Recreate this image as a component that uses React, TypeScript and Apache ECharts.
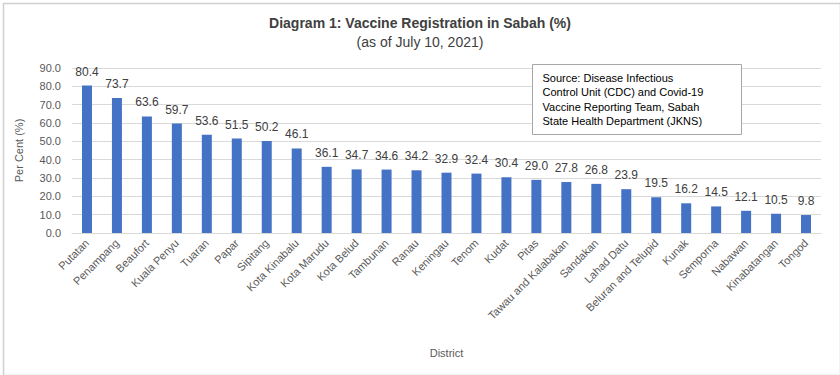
import React, { useEffect, useRef } from "react";
import * as echarts from "echarts";

const districts = [
  "Putatan", "Penampang", "Beaufort", "Kuala Penyu", "Tuaran", "Papar", "Sipitang",
  "Kota Kinabalu", "Kota Marudu", "Kota Belud", "Tambunan", "Ranau", "Keningau",
  "Tenom", "Kudat", "Pitas", "Tawau and Kalabakan", "Sandakan", "Lahad Datu",
  "Beluran and Telupid", "Kunak", "Semporna", "Nabawan", "Kinabatangan", "Tongod",
];
const registration = [
  80.4, 73.7, 63.6, 59.7, 53.6, 51.5, 50.2, 46.1, 36.1, 34.7, 34.6, 34.2, 32.9,
  32.4, 30.4, 29.0, 27.8, 26.8, 23.9, 19.5, 16.2, 14.5, 12.1, 10.5, 9.8,
];
const titleText = "Diagram 1: Vaccine Registration in Sabah (%)";
const subtitleText = "(as of July 10, 2021)";
const sourceLines = [
  "Source: Disease Infectious",
  "Control Unit (CDC) and Covid-19",
  "Vaccine Reporting Team, Sabah",
  "State Health Department (JKNS)",
];

export default function App() {
  const ref = useRef<HTMLDivElement>(null);
  useEffect(() => {
    document.body.style.margin = "0";
    const chart = echarts.init(ref.current!, undefined, { renderer: "svg" });
    const font = "'Liberation Sans', Arial, sans-serif";
    chart.setOption({
      animation: false,
      backgroundColor: "#ffffff",
      textStyle: { fontFamily: font },
      title: {
        text: titleText,
        subtext: subtitleText,
        left: "center",
        top: 11,
        itemGap: 5,
        textStyle: { fontFamily: font, fontSize: 14, fontWeight: "bold", color: "#404040" },
        subtextStyle: { fontFamily: font, fontSize: 14, color: "#404040" },
      },
      grid: { left: 72, right: 19, top: 68, bottom: 142, containLabel: false },
      xAxis: {
        type: "category",
        data: districts,
        name: "District",
        nameLocation: "middle",
        nameGap: 114,
        nameTextStyle: { fontFamily: font, fontSize: 11, color: "#595959" },
        axisLine: { lineStyle: { color: "#d9d9d9" } },
        axisTick: { show: false },
        axisLabel: { rotate: 45, interval: 0, fontSize: 11, color: "#595959", margin: 8 },
      },
      yAxis: {
        type: "value",
        min: 0,
        max: 90,
        interval: 10,
        name: "Per Cent (%)",
        nameLocation: "middle",
        nameGap: 48,
        nameTextStyle: { fontFamily: font, fontSize: 11, color: "#595959" },
        axisLabel: { formatter: (v: number) => v.toFixed(1), fontSize: 11, color: "#595959", margin: 11 },
        splitLine: { lineStyle: { color: "#d9d9d9" } },
      },
      series: [
        {
          type: "bar",
          data: registration,
          barWidth: 10,
          itemStyle: { color: "#4472C4" },
          label: {
            show: true,
            position: "top",
            distance: 8,
            formatter: (p: any) => Number(p.value).toFixed(1),
            fontSize: 12,
            color: "#404040",
          },
        },
      ],
      graphic: [
        {
          type: "rect",
          left: 1,
          top: 1,
          z: 100,
          shape: { width: 837, height: 372 },
          style: { fill: "none", stroke: "#d0d0d0", lineWidth: 1.5 },
          silent: true,
        },
        {
          type: "group",
          left: 532,
          top: 64,
          z: 100,
          children: [
            {
              type: "rect",
              z: 100,
              shape: { x: 0, y: 0, width: 209, height: 70 },
              style: { fill: "#ffffff", stroke: "#a6a6a6", lineWidth: 1 },
            },
            {
              type: "text",
              z: 101,
              x: 10,
              y: 6,
              style: {
                text: sourceLines.join("\n"),
                fontFamily: font,
                fontSize: 11,
                lineHeight: 14.5,
                fill: "#000000",
              },
            },
          ],
        },
      ],
    });
    return () => chart.dispose();
  }, []);
  return <div ref={ref} style={{ width: 840, height: 375 }} />;
}
